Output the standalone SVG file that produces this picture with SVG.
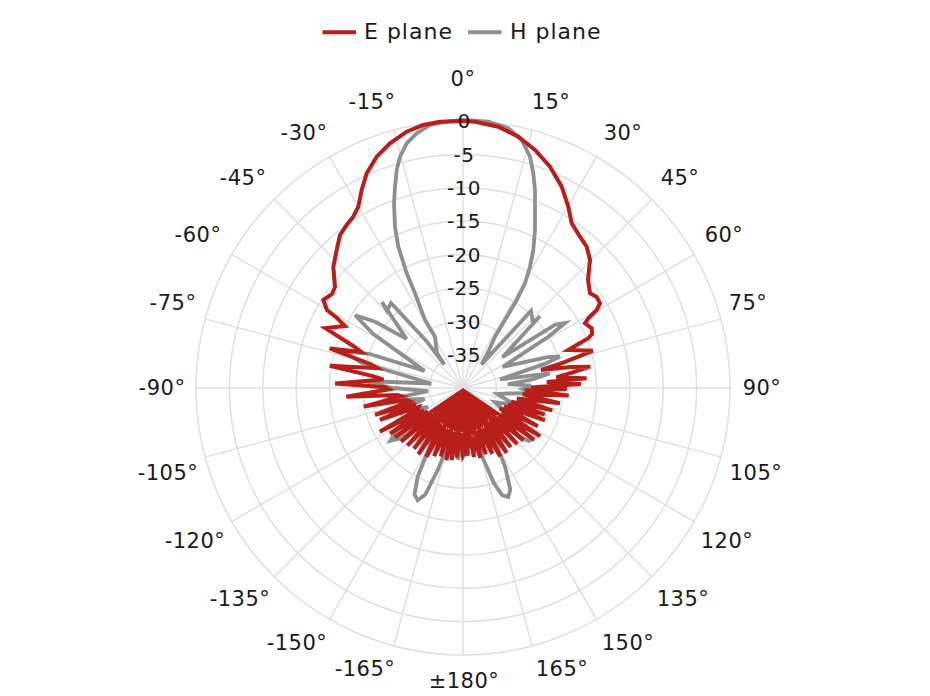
<svg xmlns="http://www.w3.org/2000/svg" width="930" height="696" viewBox="0 0 930 696">
<style>
.grid{fill:none;stroke:#e0e0e0;stroke-width:1.5}
.ang{font-family:"DejaVu Sans","Liberation Sans",sans-serif;font-size:21px;fill:#1a1a1a;text-anchor:middle;letter-spacing:0.5px}
.tick{font-family:"DejaVu Sans","Liberation Sans",sans-serif;font-size:20px;fill:#1a1a1a;text-anchor:middle;letter-spacing:0.5px}
.leg{font-family:"DejaVu Sans","Liberation Sans",sans-serif;font-size:22px;fill:#1a1a1a;letter-spacing:1px}
.e{fill:none;stroke:#b81e1a;stroke-width:4;stroke-linejoin:miter}
.h{fill:none;stroke:#8f8f8f;stroke-width:3.8;stroke-linejoin:miter}
</style>
<rect width="930" height="696" fill="#ffffff"/>
<g id="grid">
<circle class="grid" cx="463" cy="388" r="33.4"/>
<circle class="grid" cx="463" cy="388" r="66.8"/>
<circle class="grid" cx="463" cy="388" r="100.1"/>
<circle class="grid" cx="463" cy="388" r="133.5"/>
<circle class="grid" cx="463" cy="388" r="166.9"/>
<circle class="grid" cx="463" cy="388" r="200.3"/>
<circle class="grid" cx="463" cy="388" r="233.6"/>
<circle class="grid" cx="463" cy="388" r="267"/>
<line class="grid" x1="463" y1="120" x2="463" y2="656"/>
<line class="grid" x1="532.4" y1="129.1" x2="393.6" y2="646.9"/>
<line class="grid" x1="597" y1="155.9" x2="329" y2="620.1"/>
<line class="grid" x1="652.5" y1="198.5" x2="273.5" y2="577.5"/>
<line class="grid" x1="695.1" y1="254" x2="230.9" y2="522"/>
<line class="grid" x1="721.9" y1="318.6" x2="204.1" y2="457.4"/>
<line class="grid" x1="731" y1="388" x2="195" y2="388"/>
<line class="grid" x1="721.9" y1="457.4" x2="204.1" y2="318.6"/>
<line class="grid" x1="695.1" y1="522" x2="230.9" y2="254"/>
<line class="grid" x1="652.5" y1="577.5" x2="273.5" y2="198.5"/>
<line class="grid" x1="597" y1="620.1" x2="329" y2="155.9"/>
<line class="grid" x1="532.4" y1="646.9" x2="393.6" y2="129.1"/>
</g>
<g id="angle-labels">
<text class="ang" x="463" y="86">0°</text>
<text class="ang" x="551" y="109">15°</text>
<text class="ang" x="623" y="140">30°</text>
<text class="ang" x="680" y="185">45°</text>
<text class="ang" x="724" y="242">60°</text>
<text class="ang" x="748" y="310">75°</text>
<text class="ang" x="762" y="395">90°</text>
<text class="ang" x="756" y="480">105°</text>
<text class="ang" x="727" y="548">120°</text>
<text class="ang" x="683" y="606">135°</text>
<text class="ang" x="628" y="650">150°</text>
<text class="ang" x="562" y="676">165°</text>
<text class="ang" x="464" y="688">±180°</text>
<text class="ang" x="365" y="676">-165°</text>
<text class="ang" x="297" y="650">-150°</text>
<text class="ang" x="240" y="606">-135°</text>
<text class="ang" x="195" y="548">-120°</text>
<text class="ang" x="168" y="480">-105°</text>
<text class="ang" x="162" y="395">-90°</text>
<text class="ang" x="173" y="310">-75°</text>
<text class="ang" x="198" y="242">-60°</text>
<text class="ang" x="243" y="185">-45°</text>
<text class="ang" x="304" y="140">-30°</text>
<text class="ang" x="372" y="109">-15°</text>
</g>
<g id="series-h-plane">
<path class="h" d="M463,120 L488.3,121.7 L508.3,128.3 L521.7,140 L530,156.7 L533.3,173.3 L535,190 L535,210 L535,230 L533.3,250 L530,266.7 L525,283.3 L516.7,300 L505,320 L495,336.7 L488.3,351.7 L481.5,364.4 L531,311 L533,323 L540,316 L502.4,357.2 L555.3,324.6 L565.1,323 L548.7,336.5 L502.7,366.9 L547.6,357.2 L560,356.5 L544.5,363.9 L500,379.4 L549.8,373.5 L532.5,379.5 L507.8,384.1 L531,385.6 L523,389 L536.8,393.2 L507.7,393.5 L497.5,394.1 L515.3,405 L495,402.2 L513.9,419.8 L531.7,439.8 L528.3,440.9 L515.8,433.9 L487.3,413.2 L485.4,421.2 L496.5,443.7 L505.3,467.5 L510.3,489.5 L508.2,497 L502,495.1 L493.9,483.1 L483.7,460.1 L473.1,431.8 L472.4,447.3 L467.2,427.8 L466.5,453.9 L463,438 L458,459.8 L457.5,432.7 L452.6,447.1 L452.9,431.8 L447.5,446 L438.1,469.3 L425.3,494.5 L417.7,500.2 L414.5,494.5 L417.6,477.1 L430.5,444.3 L440.6,421.2 L434.2,415.8 L400.8,438.3 L390.2,440.9 L395.9,431.6 L427.7,406.8 L397.2,411.9 L424.5,399 L384,400.5 L428.1,391.1 L393,388 L363.2,381 L431.3,383.5 L361.1,362.6 L343.5,351.4 L369,353.8 L424.6,370.9 L373,333.9 L355.2,315.3 L375.2,321.8 L406.4,338.8 L382,302 L387,311 L391,303 L426.1,340.7 L444.3,364.5 L437,353 L435,336.7 L425,320 L415,293.3 L406.7,273.3 L398.3,246.7 L395,226.7 L394,203 L395,186.7 L396.7,170 L400,156.7 L406.7,143.3 L416.7,133.3 L430,125 L446.7,121.7 Z"/>
</g>
<g id="series-e-plane">
<path fill="#b81e1a" stroke="none" d="M463,388 L501.1,413.7 L498.5,415.7 L492.3,415.3 L486.4,414 L488.3,421.5 L484.2,421.9 L483.1,428.3 L478,425.1 L476.2,431 L473.4,436.9 L467.9,427.7 L465,430 L460.6,432.9 L458.1,427.7 L454.4,432.2 L452,426.5 L447.2,429.1 L445.5,424 L440.7,423.6 L441.3,416.7 L436.2,417.7 L435.2,413.9 L431.5,412.6 L428.2,411.5 Z"/>
<path class="e" d="M463,121 L475,121.7 L498.3,126.7 L518.3,136.7 L535,150 L550,166.7 L561.7,186.7 L568.3,206.7 L571.7,223.3 L580,236.7 L586.7,246.7 L590,260 L588,280 L590,293.3 L596.7,297 L600,303.3 L596.7,310 L588.3,318.3 L585,323.3 L591.7,328.3 L592,334 L588.3,338.3 L576.7,345 L568.3,350 L592.8,350.8 L560,363.8 L541,370 L571,367 L590.2,366.7 L571.9,372.7 L556.4,377.4 L586.6,378.3 L546.8,382.1 L580.9,383.9 L531,387.4 L567,388.9 L525,390.2 L568.7,395.4 L522.7,394.3 L559.8,403.3 L517,398.5 L552.3,410.3 L511.1,401.8 L544.8,414.6 L508.1,404.4 L544.9,420.3 L504.1,406.3 L537.8,426.1 L499.7,408.4 L540.2,436.2 L501.1,413.7 L534.2,439.7 L498.5,415.7 L523.4,440.5 L492.3,415.3 L517.2,444.1 L486.4,414 L510.8,447.1 L488.3,421.5 L506.6,452.7 L484.2,421.9 L500.2,456.5 L483.1,428.3 L492.3,453.8 L478,425.1 L485.8,454.2 L476.2,431 L480.4,457.9 L473.4,436.9 L473.9,457.1 L467.9,427.7 L467.7,455.8 L464,408 L465.2,452 L463,456 L460.6,432.9 L456.9,457.7 L458.1,427.7 L451.6,460.1 L454.4,432.2 L446.3,460.1 L452,426.5 L440.8,456.5 L447.2,429.1 L434.1,456.1 L445.5,424 L426.4,456.9 L440.7,423.6 L418.3,454.3 L441.3,416.7 L413.9,448.6 L436.2,417.7 L407.4,445.5 L435.2,413.9 L401.1,441.8 L431.5,412.6 L395,437.4 L428.2,411.5 L390.1,433.6 L423.8,410.2 L379.8,431.8 L417.7,409.1 L418.8,406.8 L379.9,419.9 L415.6,403.9 L375,414.9 L409.6,401.3 L406.3,400.1 L363.7,406.6 L401.5,396.1 L397.4,394.9 L346.3,396.8 L389,389.3 L385,387.3 L335.1,383.5 L383.4,379.6 L373.8,376.3 L329.8,365.7 L377.3,368.2 L371,364.2 L329.7,348.5 L361.2,351.9 L352.8,345.7 L325.4,328.2 L345,326 L337,318 L327,310 L323.3,300 L332,294 L335,287 L333.3,267 L336.7,250 L340,235 L346.7,225 L353.3,216.7 L358.3,206.7 L361.7,190 L366.7,173.3 L376.7,156.7 L390,143.3 L406.7,131.7 L423.3,125 L440,121.7 Z"/>
</g>
<g id="tick-labels">
<text class="tick" x="464" y="128">0</text>
<text class="tick" x="464" y="161.5">-5</text>
<text class="tick" x="464" y="195">-10</text>
<text class="tick" x="464" y="228.3">-15</text>
<text class="tick" x="464" y="261.7">-20</text>
<text class="tick" x="464" y="295">-25</text>
<text class="tick" x="464" y="328.5">-30</text>
<text class="tick" x="464" y="362">-35</text>
</g>
<g id="legend">
<line x1="322.5" y1="32.3" x2="356" y2="32.3" stroke="#b81e1a" stroke-width="4"/>
<text class="leg" x="364" y="38.5">E plane</text>
<line x1="468" y1="32.3" x2="501.5" y2="32.3" stroke="#8f8f8f" stroke-width="4"/>
<text class="leg" x="510" y="38.5">H plane</text>
</g>
</svg>
